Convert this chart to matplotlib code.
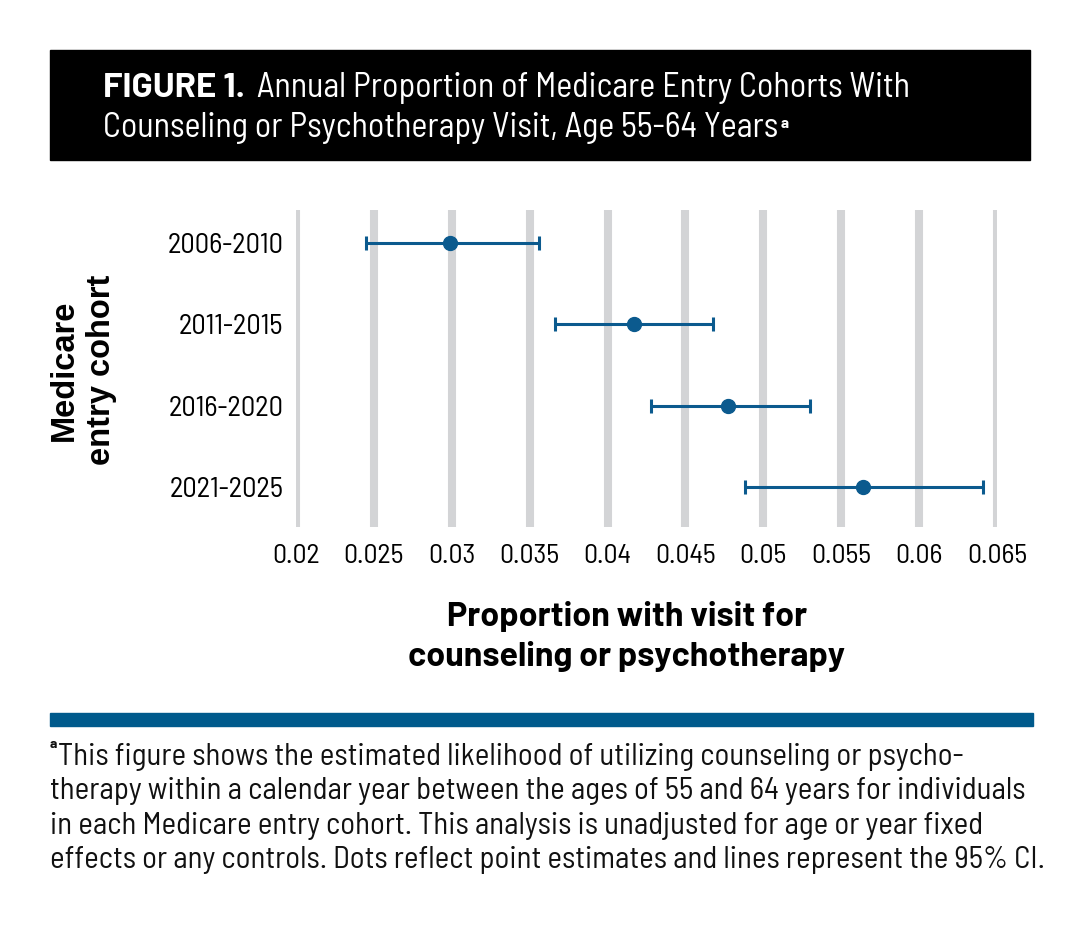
import matplotlib.pyplot as plt
from matplotlib.patches import Rectangle

cohorts = ["2006-2010", "2011-2015", "2016-2020", "2021-2025"]
estimate = [0.0299, 0.0417, 0.0477, 0.0564]
ci_low = [0.0245, 0.0366, 0.0428, 0.0488]
ci_high = [0.0356, 0.0468, 0.0530, 0.0641]
xticks = [0.02, 0.025, 0.03, 0.035, 0.04, 0.045, 0.05, 0.055, 0.06, 0.065]
xtick_labels = ["0.02", "0.025", "0.03", "0.035", "0.04", "0.045", "0.05", "0.055", "0.06", "0.065"]

BLUE = "#0b5a8e"
GRID = "#d3d4d6"
FONT = "Barlow"
NARROW = "Barlow Semi Condensed"
W, H = 1084, 932


def fx(px):
    return px / W


def fy(py):
    return 1 - py / H


fig = plt.figure(figsize=(W / 100, H / 100), dpi=100)
renderer = fig.canvas.get_renderer()


def fit(t, target_px):
    # shrink/grow a text until it spans target_px pixels
    for _ in range(3):
        w = t.get_window_extent(renderer).width
        t.set_fontsize(t.get_fontsize() * target_px / w)
    return t.get_fontsize()


# header band
fig.patches.append(Rectangle((fx(50), fy(160)), 980 / W, 110 / H,
                             transform=fig.transFigure, color="black", zorder=0))
t0 = fig.text(fx(103), fy(88), "FIGURE 1.", color="white", fontsize=20,
              fontweight="bold", family=FONT, va="center")
fit(t0, 142)
t1 = fig.text(fx(257), fy(88), "Annual Proportion of Medicare Entry Cohorts With",
              color="white", fontsize=20, family=NARROW, va="center")
hs = fit(t1, 653)
t2 = fig.text(fx(103), fy(128), "Counseling or Psychotherapy Visit, Age 55-64 Years",
              color="white", fontsize=hs, family=NARROW, va="center")
bb = t2.get_window_extent(renderer)
fig.text((bb.x1 + 2) / W, (bb.y1 - 5) / H, "a", fontsize=11, color="white",
         family=FONT, fontweight="bold", va="top", ha="left")

ax = fig.add_axes([fx(296), fy(527), 701 / W, 317 / H])
ypos = list(range(len(cohorts)))
xerr = [[e - l for e, l in zip(estimate, ci_low)], [h - e for e, h in zip(estimate, ci_high)]]
ax.errorbar(estimate, ypos, xerr=xerr, fmt="o", color=BLUE, ms=10, elinewidth=2.2,
            capsize=5, capthick=2.2, zorder=3)
for x in xticks:
    ax.axvline(x, color=GRID, lw=5.8, zorder=1)

ax.set_xlim(0.02, 0.065)
ax.set_ylim(3.49, -0.4)
ax.set_yticks(ypos)
ax.set_yticklabels(cohorts, family=NARROW, fontsize=20.5)
ax.set_xticks(xticks)
ax.set_xticklabels(xtick_labels, family=NARROW, fontsize=20)
ax.tick_params(length=0)
ax.tick_params(axis="x", pad=12)
ax.tick_params(axis="y", pad=9)
for s in ax.spines.values():
    s.set_visible(False)

xl = fig.text(fx(627), fy(636), "Proportion with visit for\ncounseling or psychotherapy",
              ha="center", va="center", fontsize=22, fontweight="bold",
              family=FONT, linespacing=1.36)
fit(xl, 437)
fig.text(fx(83), fy(370), "Medicare\nentry cohort", ha="center", va="center",
         rotation=90, fontsize=23.5, fontweight="bold", family="Liberation Sans",
         linespacing=1.22)

# blue rule
fig.patches.append(Rectangle((fx(50), fy(726)), 983 / W, 13 / H,
                             transform=fig.transFigure, color="#005a8c", zorder=0))

notes = [
    "This figure shows the estimated likelihood of utilizing counseling or psycho-",
    "therapy within a calendar year between the ages of 55 and 64 years for individuals",
    "in each Medicare entry cohort. This analysis is unadjusted for age or year fixed",
    "effects or any controls. Dots reflect point estimates and lines represent the 95% CI.",
]
probe = fig.text(0, 0, notes[1], fontsize=18, family=NARROW)
ns = fit(probe, 972)
probe.remove()
for i, line in enumerate(notes):
    x0 = 58 if i == 0 else 50
    fig.text(fx(x0), fy(757 + 34.3 * i), line, fontsize=ns, family=NARROW,
             va="center", color="#111111")
fig.text(fx(50), fy(745), "a", fontsize=10, family=FONT, fontweight="bold",
         va="center", color="#111111")

fig.savefig("out.png", dpi=100)
